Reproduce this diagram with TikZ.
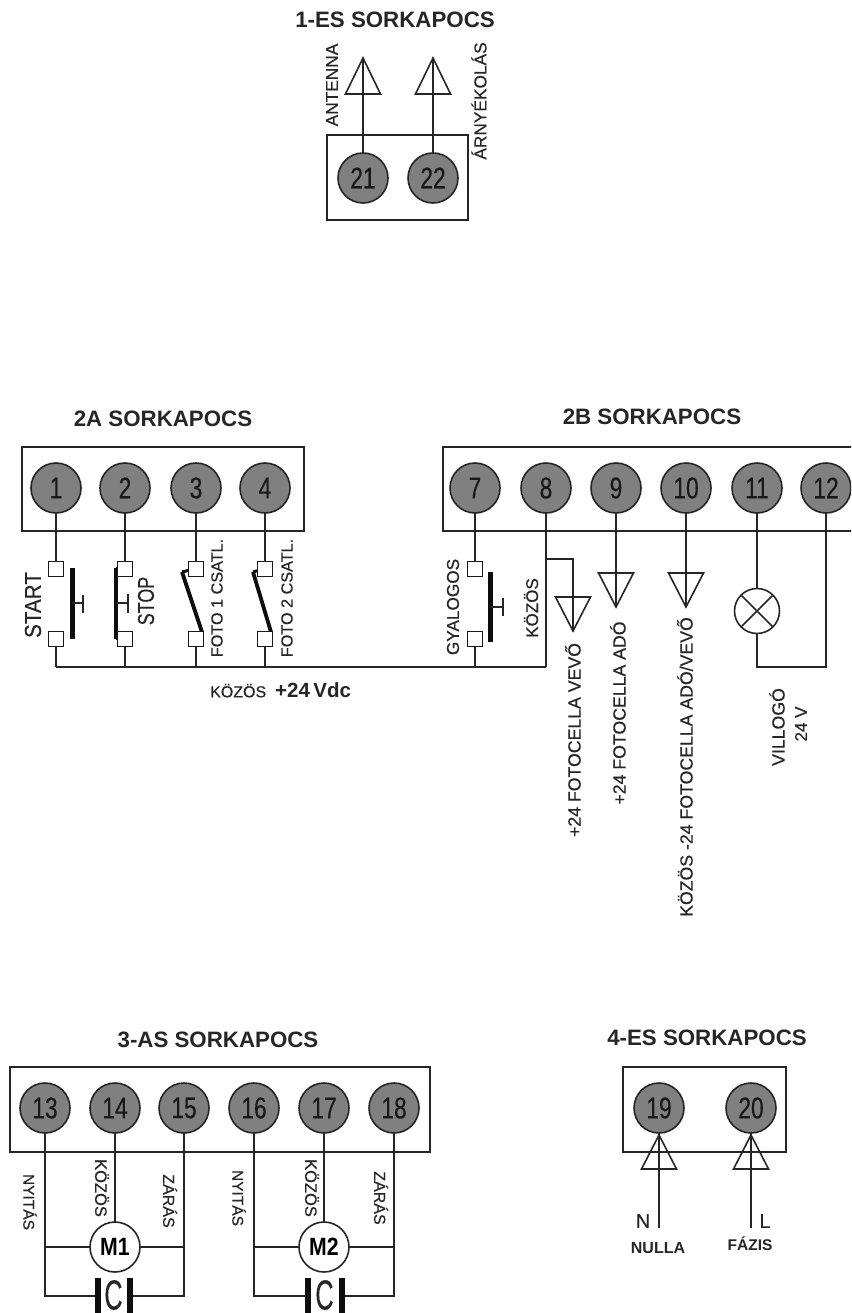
\documentclass[tikz,border=0pt]{standalone}
\usepackage{fontspec}
\setmainfont[FakeBold=0.35]{Liberation Sans}
\newfontfamily\ttlf{Liberation Sans Bold}
\newcommand{\fs}[1]{\fontsize{#1}{#1}\selectfont}
\newcommand{\dg}[1]{\scalebox{.76}[1]{\fs{30}#1}}
\newcommand{\antsym}[3]{\draw[tri] (#1,#2) -- (#1-17.5,#3) -- (#1+17.5,#3) -- cycle;}
\tikzset{
  wire/.style={draw=black!85,line width=1.6pt},
  boxline/.style={draw=black!85,line width=1.9pt},
  tri/.style={draw=black!85,line width=1.6pt,line join=miter},
  bar/.style={draw=black!95,line width=5pt},
  term/.style={circle,draw=black!85,fill=black!50,line width=1.6pt,minimum size=50pt,inner sep=0pt,outer sep=0pt,text=black!90},
  sq/.style={rectangle,draw=black!90,fill=white,line width=1.9pt,minimum size=15pt,inner sep=0pt,outer sep=0pt},
  motor/.style={circle,draw=black!85,fill=white,line width=1.6pt,minimum size=50pt,inner sep=0pt,outer sep=0pt},
  ttl/.style={font=\ttlf\fs{22.3},text=black!85,inner sep=0pt},
  lab/.style={font=\fs{17.7},text=black!85,inner sep=0pt},
  din/.style={font=\fs{23},text=black!85,inner sep=0pt},
}
\begin{document}
\begin{tikzpicture}[x=1pt,y=-1pt]
\useasboundingbox (0,0) rectangle (851,1313);
\clip (0,0) rectangle (851,1313);
\fill[white] (0,0) rectangle (851,1313);

% ---------- 1-ES
\node[ttl] (title1) at (395,20) {1-ES SORKAPOCS};
\draw[boxline] (327,135) rectangle (468,220);
\antsym{363}{58}{94}
\antsym{433}{58}{94}
\coordinate (a21) at (363,58);
\coordinate (a22) at (433,58);
\node[term] (t21) at (363,178) {\dg{21}};
\node[term] (t22) at (433,178) {\dg{22}};
\draw[wire] (t21) -- (a21);
\draw[wire] (t22) -- (a22);
\node[lab,rotate=90,font=\fs{17.3}] (lant) at (332,85) {ANTENNA};
\node[lab,rotate=90,font=\fs{17.3}] (larn) at (479,101) {ÁRNYÉKOLÁS};

% ---------- 2A
\node[ttl] (title2a) at (163,419) {2A SORKAPOCS};
\draw[boxline] (22,447) rectangle (304,531);
\node[term] (t1) at (56,488) {\dg{1}};
\node[term] (t2) at (125,488) {\dg{2}};
\node[term] (t3) at (196,488) {\dg{3}};
\node[term] (t4) at (265,488) {\dg{4}};
\node[term] (t7) at (475,488) {\dg{7}};
\foreach \n/\x in {1/56,2/125,3/196,4/265,7/475}{
  \coordinate (b\n) at (\x,667);
}
\coordinate (b8) at (546,667);
% switch bodies
\draw[bar] (72,568) -- (72,639);
\draw[wire] (72,603) -- (83,603);
\draw[wire] (83,595) -- (83,613);
\draw[bar,line width=4pt] (116,568) -- (116,639);
\draw[bar,line width=3pt] (116,568.5) -- (125,568.5);
\draw[bar,line width=3pt] (116,638.5) -- (125,638.5);
\draw[wire] (116,603) -- (128,603);
\draw[wire] (128,594) -- (128,613);
\draw[bar,line width=3.8pt] (182,572) -- (202,632);
\draw[bar,line width=3.8pt] (253,572) -- (271,632);
\draw[bar,line width=3pt] (182,572) -- (190,570);
\draw[bar,line width=3pt] (253,572) -- (260,570);
\foreach \n/\x in {1/56,2/125,3/196,4/265,7/475}{
  \node[sq] (s\n a) at (\x,569) {};
  \node[sq] (s\n b) at (\x,639) {};
  \draw[wire] (t\n) -- (s\n a);
  \draw[wire] (s\n b) -- (b\n);
}
\draw[wire] (b1) -- (b8);
\node[din,rotate=90] (lstart) at (33,605) {\scalebox{.9}[1]{START}};
\node[din,rotate=90] (lstop) at (146,601) {\scalebox{.78}[1]{STOP}};
\node[lab,rotate=90,font=\fs{16.2}] (lf1) at (217,598) {FOTO 1 CSATL.};
\node[lab,rotate=90,font=\fs{16.2}] (lf2) at (287,598) {FOTO 2 CSATL.};
\node[lab,anchor=west] (lkoz) at (210,690) {{\fs{16}KÖZÖS}\hspace{9pt}{\ttlf\fs{20.5}+24\,Vdc}};

% ---------- 2B
\node[ttl] (title2b) at (652,417) {2B SORKAPOCS};
\draw[boxline] (870,447) -- (443,447) -- (443,531) -- (870,531);
\node[term] (t8) at (546,488) {\dg{8}};
\node[term] (t9) at (616,488) {\dg{9}};
\node[term] (t10) at (686,488) {\dg{10}};
\node[term] (t11) at (757,488) {\dg{11}};
\node[term] (t12) at (826,488) {\dg{12}};
\draw[bar] (490,572) -- (490,642);
\draw[wire] (490,607) -- (503,607);
\draw[wire] (503,598) -- (503,616);
\draw[wire] (t8) -- (b8);
\coordinate (j8) at (546,559);
\coordinate (v8) at (573,559);
\coordinate (a8) at (573,631);
\coordinate (a9) at (616,607);
\coordinate (a10) at (686,607);
\antsym{573}{631}{597}
\antsym{616}{607}{573}
\antsym{686}{607}{573}
\draw[wire] (j8) -- (v8) -- (a8);
\draw[wire] (t9) -- (a9);
\draw[wire] (t10) -- (a10);
\node[motor,minimum size=45pt] (lamp) at (757,611) {};
\draw[wire] (lamp.north east) -- (lamp.south west);
\draw[wire] (lamp.north west) -- (lamp.south east);
\coordinate (c11) at (757,667);
\coordinate (c12) at (826,667);
\draw[wire] (t11) -- (lamp);
\draw[wire] (lamp) -- (c11) -- (c12) -- (t12);
\node[lab,rotate=90,font=\fs{17.2}] (lgy) at (453,607) {GYALOGOS};
\node[lab,rotate=90,font=\fs{17}] (lk8) at (531,608) {KÖZÖS};
\node[lab,rotate=90] (lv) at (573,740) {+24 FOTOCELLA VEVŐ};
\node[lab,rotate=90] (la) at (618,713) {+24 FOTOCELLA ADÓ};
\node[lab,rotate=90] (lk) at (685,767) {KÖZÖS -24 FOTOCELLA ADÓ/VEVŐ};
\node[lab,rotate=90,font=\fs{17.7}] (lvi) at (777,727) {VILLOGÓ};
\node[lab,rotate=90,font=\fs{17}] (l24) at (801,724) {24 V};

% ---------- 3-AS
\node[ttl] (title3) at (218,1040) {3-AS SORKAPOCS};
\draw[boxline] (10,1067) rectangle (430,1152);
\node[term] (t13) at (45,1108) {\dg{13}};
\node[term] (t14) at (115,1108) {\dg{14}};
\node[term] (t15) at (184,1108) {\dg{15}};
\node[term] (t16) at (254,1108) {\dg{16}};
\node[term] (t17) at (324,1108) {\dg{17}};
\node[term] (t18) at (394,1108) {\dg{18}};
\node[motor] (m1) at (115,1247) {\scalebox{.85}[1]{\ttlf\fs{25}M1}};
\node[motor] (m2) at (324,1247) {\scalebox{.85}[1]{\ttlf\fs{25}M2}};
\foreach \m/\l/\c/\r/\xl/\xr/\pl/\pr in {m1/t13/t14/t15/45/184/98/130,m2/t16/t17/t18/254/394/308/342}{
  \coordinate (\m jl) at (\xl,1247);
  \coordinate (\m jr) at (\xr,1247);
  \coordinate (\m cl) at (\xl,1296);
  \coordinate (\m cr) at (\xr,1296);
  \coordinate (\m pl) at (\pl,1296);
  \coordinate (\m pr) at (\pr,1296);
  \draw[wire] (\l) -- (\m cl) -- (\m pl);
  \draw[wire] (\r) -- (\m cr) -- (\m pr);
  \draw[wire] (\c) -- (\m);
  \draw[wire] (\m jl) -- (\m);
  \draw[wire] (\m jr) -- (\m);
  \draw[bar,line width=5.5pt] (\pl,1278) -- (\pl,1320);
  \draw[bar,line width=5.5pt] (\pr,1278) -- (\pr,1320);
  \node[inner sep=0pt,text=black!85] (\m cap) at ({(\pl+\pr)/2-0.5},1295) {\scalebox{.6}[1]{\fs{42}C}};
}
\node[lab,rotate=-90,font=\fs{15.5}] (ln1) at (30,1202) {NYITÁS};
\node[lab,rotate=-90,font=\fs{16.5}] (lk1) at (102,1188) {KÖZÖS};
\node[lab,rotate=-90,font=\fs{16}] (lz1) at (170,1201) {ZÁRÁS};
\node[lab,rotate=-90,font=\fs{15.5}] (ln2) at (239,1198) {NYITÁS};
\node[lab,rotate=-90,font=\fs{16.5}] (lk2) at (312,1188) {KÖZÖS};
\node[lab,rotate=-90,font=\fs{16}] (lz2) at (381,1198) {ZÁRÁS};

% ---------- 4-ES
\node[ttl] (title4) at (707,1038) {4-ES SORKAPOCS};
\draw[boxline] (623,1067) rectangle (786,1152);
\antsym{659}{1135}{1169}
\antsym{751}{1135}{1169}
\node[term] (t19) at (659,1108) {\dg{19}};
\node[term] (t20) at (751,1108) {\dg{20}};
\coordinate (e19) at (659,1228);
\coordinate (e20) at (751,1228);
\draw[wire] (t19) -- (e19);
\draw[wire] (t20) -- (e20);
\node[din,font=\fs{20}] (ln) at (643,1221) {N};
\node[din,font=\fs{20}] (ll) at (765,1221) {L};
\node[lab,font=\ttlf\fs{16}] (lnu) at (658,1248) {NULLA};
\node[lab,font=\ttlf\fs{15.5}] (lfa) at (750,1244) {FÁZIS};
\end{tikzpicture}
\end{document}
